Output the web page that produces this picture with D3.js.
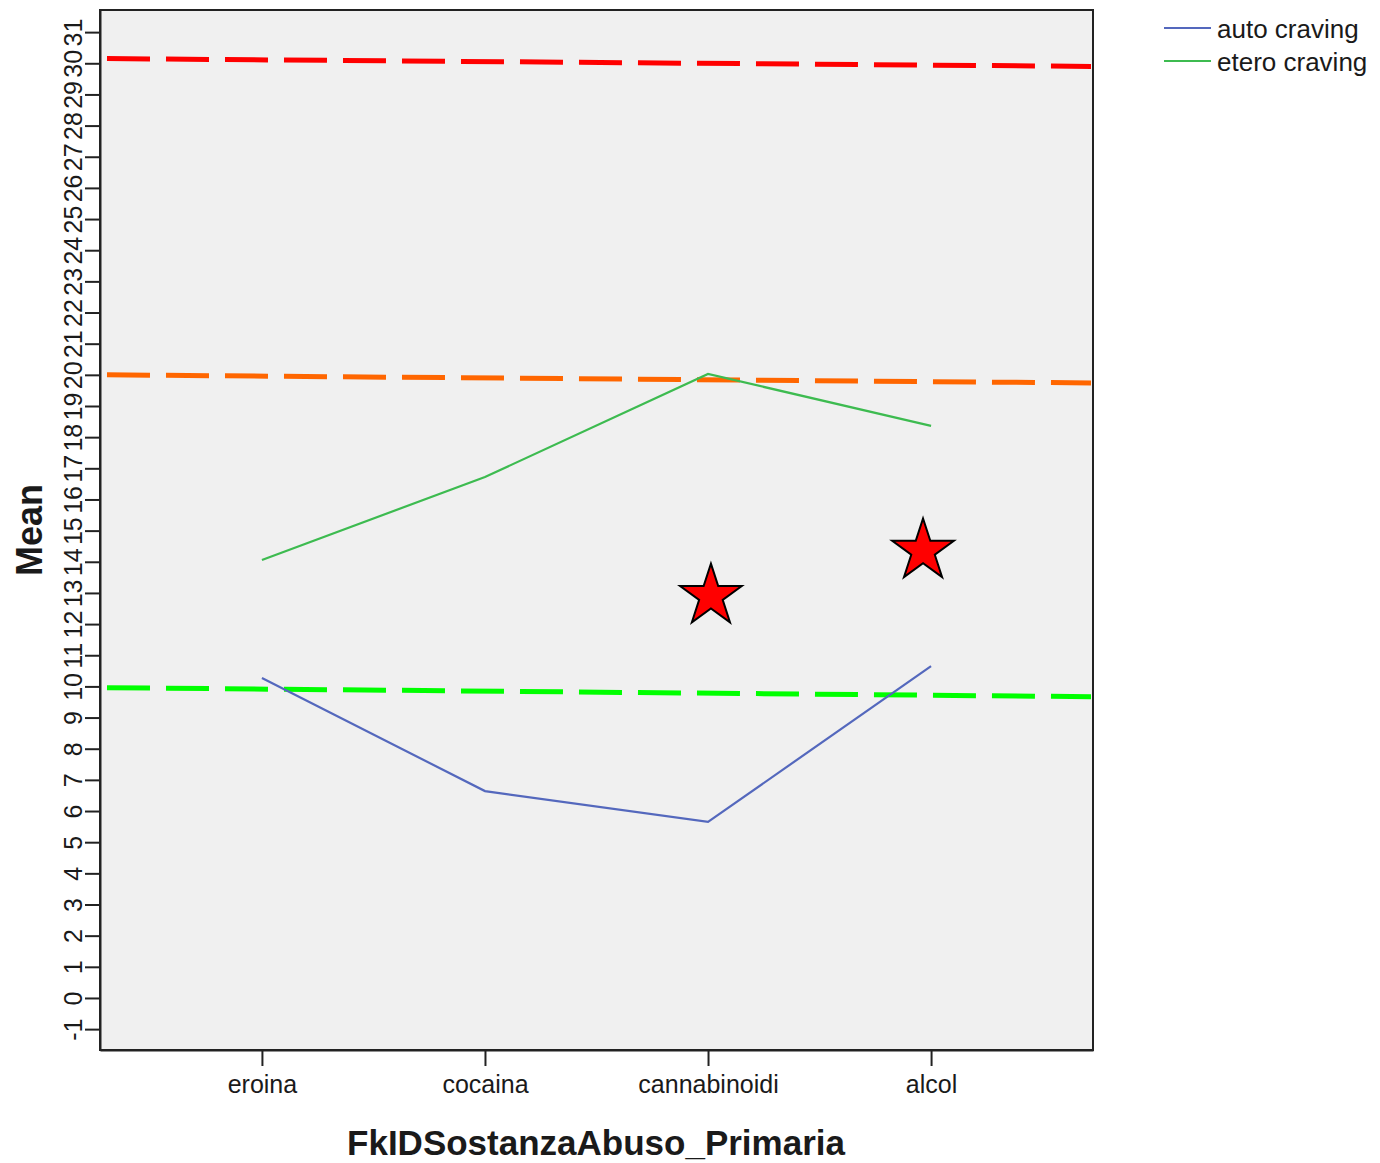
<!DOCTYPE html>
<html><head><meta charset="utf-8">
<script src="https://cdn.jsdelivr.net/npm/d3@7"></script>
<style>body{margin:0;background:#fff}svg{display:block}text{font-family:"Liberation Sans",Arial,sans-serif;fill:#1a1a1a}</style>
</head><body><svg id="c" width="1380" height="1163"></svg>
<script>
const categories = ["eroina","cocaina","cannabinoidi","alcol"];
const autoCraving = [10.27, 6.64, 5.65, 10.65];
const eteroCraving = [14.06, 16.72, 20.03, 18.36];
const seriesNames = ["auto craving","etero craving"];
const yTicks = d3.range(-1, 32);
// reference dashed lines: [start value, end value]
const refLines = [
  {name:"red", values:[30.15, 29.9], color:"#ff0000"},
  {name:"orange", values:[20.0, 19.74], color:"#ff6600"},
  {name:"green", values:[9.96, 9.67], color:"#00ff00"}
];
// star markers: category and position offset in category steps
const stars = [
  {cat:"cannabinoidi", shift:0.013, value:12.9},
  {cat:"alcol", shift:-0.036, value:14.35}
];

const svg = d3.select("#c");
const L=100, R=1093, T=10, B=1050;
const x = d3.scalePoint().domain(categories).range([L,R]).padding(0.726);
const y = d3.scaleLinear().domain([-1.67, 31.71]).range([B,T]);

svg.append("rect").attr("x",L).attr("y",T).attr("width",R-L).attr("height",B-T)
  .attr("fill","#f0f0f0").attr("stroke","#222").attr("stroke-width",2);

// y axis
const ya = svg.append("g").attr("transform",`translate(${L},0)`)
  .call(d3.axisLeft(y).tickValues(yTicks).tickSize(15).tickSizeOuter(0).tickFormat(d=>String(d)));
ya.select(".domain").attr("stroke","#222").attr("stroke-width",2);
ya.selectAll(".tick line").attr("stroke","#222").attr("stroke-width",2);
ya.selectAll(".tick text").attr("x",null).attr("dy",null)
  .attr("transform","translate(-18,0) rotate(-90)")
  .attr("text-anchor","middle").attr("font-size",25).attr("fill","#1a1a1a");

// x axis
const xa = svg.append("g").attr("transform",`translate(0,${B})`)
  .call(d3.axisBottom(x).tickSize(16).tickSizeOuter(0));
xa.select(".domain").attr("stroke","#222").attr("stroke-width",2);
xa.selectAll(".tick line").attr("stroke","#222").attr("stroke-width",2);
xa.selectAll(".tick text").attr("y",43).attr("dy",null).attr("font-size",25).attr("fill","#1a1a1a");

// titles
svg.append("text").attr("x",596).attr("y",1155).attr("text-anchor","middle")
  .attr("font-weight","bold").attr("font-size",35).text("FkIDSostanzaAbuso_Primaria");
svg.append("text").attr("transform","translate(42,530) rotate(-90)").attr("text-anchor","middle")
  .attr("font-weight","bold").attr("font-size",36).text("Mean");

// reference dashed lines
const xs = d3.scaleLinear().domain([0,1]).range([107,1091]);
refLines.forEach(r=>{
  svg.append("line").attr("x1",xs(0)).attr("x2",xs(1))
    .attr("y1",y(r.values[0])).attr("y2",y(r.values[1]))
    .attr("stroke",r.color).attr("stroke-width",5).attr("stroke-dasharray","43 16");
});

// series lines
const line = d3.line().x((d,i)=>x(categories[i])).y(d=>y(d));
const colors = ["#5468bd","#3dbb50"];
[autoCraving, eteroCraving].forEach((s,i)=>{
  svg.append("path").datum(s).attr("d",line).attr("fill","none")
    .attr("stroke",colors[i]).attr("stroke-width",2.2);
});

// stars
const star = d3.symbol(d3.symbolStar, 1180);
svg.selectAll(".star").data(stars).enter().append("path")
  .attr("transform",d=>`translate(${x(d.cat)+d.shift*x.step()},${y(d.value)})`)
  .attr("d",star).attr("fill","#ff0000").attr("stroke","#000").attr("stroke-width",2);

// legend
seriesNames.forEach((n,i)=>{
  const ly = 28 + i*33;
  svg.append("line").attr("x1",1164).attr("x2",1211).attr("y1",ly).attr("y2",ly)
    .attr("stroke",colors[i]).attr("stroke-width",2.2);
  svg.append("text").attr("x",1217).attr("y",ly+10).attr("font-size",26).text(n);
});
</script></body></html>
